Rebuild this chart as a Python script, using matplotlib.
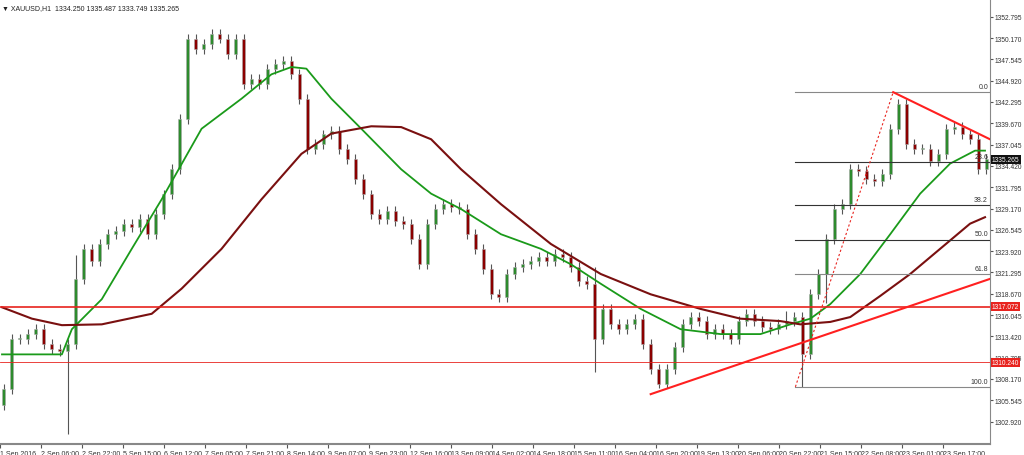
import matplotlib
matplotlib.use('Agg')
import matplotlib.pyplot as plt
import numpy as np

plt.rcParams['font.family'] = ['Liberation Sans', 'DejaVu Sans']

# close prices, one candle every 8 px of chart width
closes = [1306.9, 1313.1, 1313.1, 1313.7, 1314.3, 1312.5, 1311.9, 1311.6, 1312.5, 1320.5,
          1324.2, 1322.7, 1324.8, 1326.0, 1326.4, 1327.3, 1326.9, 1327.9, 1326.0, 1328.5,
          1330.9, 1334.0, 1340.2, 1350.1, 1348.8, 1349.4, 1350.7, 1350.1, 1348.2, 1350.1,
          1344.5, 1345.1, 1344.5, 1346.4, 1347.0, 1347.3, 1345.7, 1342.7, 1336.5, 1337.1,
          1338.3, 1338.7, 1336.5, 1335.3, 1332.8, 1330.9, 1328.5, 1327.9, 1328.9, 1327.6,
          1327.3, 1325.4, 1322.3, 1327.3, 1329.1, 1329.7, 1329.4, 1329.1, 1326.0, 1324.2,
          1321.7, 1318.6, 1318.3, 1321.1, 1322.0, 1322.3, 1322.7, 1323.2, 1322.7, 1323.6,
          1323.2, 1322.0, 1320.2, 1319.9, 1313.1, 1316.8, 1314.9, 1314.3, 1314.9, 1315.6,
          1312.5, 1309.4, 1307.6, 1309.4, 1312.1, 1314.9, 1315.8, 1315.3, 1313.7, 1314.3,
          1313.7, 1313.1, 1315.3, 1316.2, 1315.3, 1314.6, 1314.3, 1314.9, 1315.3, 1315.8,
          1311.2, 1318.6, 1321.1, 1325.4, 1329.1, 1329.7, 1334.0, 1333.8, 1332.8, 1332.6,
          1333.4, 1339.0, 1342.0, 1337.1, 1336.5, 1336.5, 1335.0, 1335.9, 1339.0, 1339.2,
          1338.3, 1337.7, 1334.0, 1335.265]
first_open = 1305.0
# a few long wicks: candle index -> extreme price
long_lows = {8: 1301.4, 74: 1309.0, 100: 1307.2, 103: 1317.5}
long_highs = {9: 1323.5, 74: 1322.0, 98: 1316.5}

ma_fast_x = [0, 30, 60, 70, 100, 130, 160, 200, 240, 270, 290, 305, 330, 360, 400, 430, 460,
             500, 540, 570, 600, 640, 680, 720, 760, 790, 810, 830, 860, 890, 920, 950, 975, 985]
ma_fast = [1311.2, 1311.2, 1311.2, 1314.3, 1318.0, 1324.2, 1330.3, 1339.0, 1342.7, 1345.7,
           1346.6, 1346.4, 1342.7, 1339.0, 1334.0, 1331.0, 1329.1, 1326.0, 1324.2, 1322.3,
           1319.9, 1316.8, 1314.3, 1313.7, 1313.7, 1314.9, 1315.6, 1317.4, 1321.1, 1326.0,
           1331.0, 1334.7, 1336.3, 1336.3]
ma_slow_x = [0, 30, 60, 100, 150, 180, 220, 260, 300, 330, 370, 400, 430, 460, 500, 550, 600,
             650, 700, 740, 780, 800, 830, 850, 880, 910, 940, 970, 985]
ma_slow = [1317.0, 1315.6, 1314.8, 1314.9, 1316.2, 1319.3, 1324.2, 1330.3, 1335.9, 1338.4,
           1339.3, 1339.2, 1337.7, 1334.0, 1329.7, 1324.8, 1321.1, 1318.6, 1316.8, 1315.6,
           1315.3, 1314.9, 1315.2, 1315.8, 1318.4, 1321.1, 1324.2, 1327.3, 1328.1]

fib_high, fib_low = 1343.5, 1307.2
fib_levels = [0.0, 23.6, 38.2, 50.0, 61.8, 100.0]
support_line = ([650, 990], [1306.3, 1320.5])
resist_line = ([893, 990], [1343.5, 1337.7])
level_red = 1317.072
level_thin = 1310.240
price_now = 1335.265

y_ticks = [1302.920 + 2.625 * i for i in range(20)]
time_labels = ['1 Sep 2016', '2 Sep 06:00', '2 Sep 22:00', '5 Sep 15:00', '6 Sep 12:00',
               '7 Sep 05:00', '7 Sep 21:00', '8 Sep 14:00', '9 Sep 07:00', '9 Sep 23:00',
               '12 Sep 16:00', '13 Sep 09:00', '14 Sep 02:00', '14 Sep 18:00', '15 Sep 11:00',
               '16 Sep 04:00', '16 Sep 20:00', '19 Sep 13:00', '20 Sep 06:00', '20 Sep 22:00',
               '21 Sep 15:00', '22 Sep 08:00', '23 Sep 01:00', '23 Sep 17:00']

fig = plt.figure(figsize=(10.24, 4.56), dpi=100)
ax = fig.add_axes([0, 11 / 456, 990 / 1024, 445 / 456])
ax.set_xlim(0, 990)
ax.set_ylim(1300.16, 1354.98)

# candles
step = 8
opens = [first_open] + closes[:-1]
for i, (o, c) in enumerate(zip(opens, closes)):
    x = 2 + i * step
    hi = long_highs.get(i, max(o, c) + 0.6)
    lo = long_lows.get(i, min(o, c) - 0.6)
    ax.vlines(x, lo, hi, color='#555555', lw=0.8, zorder=2)
    col = '#2e8b2e' if c >= o else '#8b0000'
    ax.bar(x, max(abs(c - o), 0.15), bottom=min(o, c), width=3, color=col,
           edgecolor='#aaaaaa', lw=0.4, zorder=3)

ax.plot(ma_fast_x, ma_fast, color='#1a9a1a', lw=1.3, zorder=4)
ax.plot(ma_slow_x, ma_slow, color='#7a1010', lw=1.5, zorder=4)

ax.axhline(level_red, color='#e8231e', lw=1.2, zorder=5)
ax.axhline(level_thin, color='#e8231e', lw=0.6, zorder=5)

# fibonacci retracement
for lev in fib_levels:
    p = fib_high - (fib_high - fib_low) * lev / 100
    ax.plot([795, 990], [p, p], color='#333333' if lev not in (0.0, 61.8, 100.0) else '#888888',
            lw=0.8, zorder=5)
    ax.text(988, p + 0.25, f'{lev:.1f}', fontsize=5, ha='right', va='bottom', color='#333333')
ax.plot([795, 893], [fib_low, fib_high], color='#e8231e', lw=0.8, ls=(0, (2, 2)), zorder=5)

ax.plot(*support_line, color='#ff2020', lw=1.5, zorder=6)
ax.plot(*resist_line, color='#ff2020', lw=1.5, zorder=6)

# axes styling
for s in ['top', 'left']:
    ax.spines[s].set_visible(False)
ax.spines['right'].set_color('#888888')
ax.spines['bottom'].set_color('#888888')
ax.spines['bottom'].set_linewidth(1.5)
ax.yaxis.tick_right()
ax.set_yticks(y_ticks)
ax.set_yticklabels([f'{v:.3f}' for v in y_ticks], fontsize=4.8, color='#333333')
ax.tick_params(axis='y', length=2, pad=1.5, color='#555555')
ax.set_xticks([-2 + 41.1 * i for i in range(len(time_labels))])
ax.set_xticklabels(time_labels, fontsize=5, color='#333333', ha='left')
ax.tick_params(axis='x', length=3, pad=1, color='#555555')

for val, bg in [(price_now, '#111111'), (level_red, '#e8231e'), (level_thin, '#e8231e')]:
    ax.text(992, val, f'{val:.3f}', fontsize=4.8, color='white', va='center', ha='left',
            bbox=dict(boxstyle='square,pad=0.15', fc=bg, ec='none'), clip_on=False, zorder=10)

fig.text(0.002, 0.99, '▼ XAUUSD,H1  1334.250 1335.487 1333.749 1335.265', fontsize=5,
         va='top', color='#222222')

fig.savefig('out.png', dpi=100)
